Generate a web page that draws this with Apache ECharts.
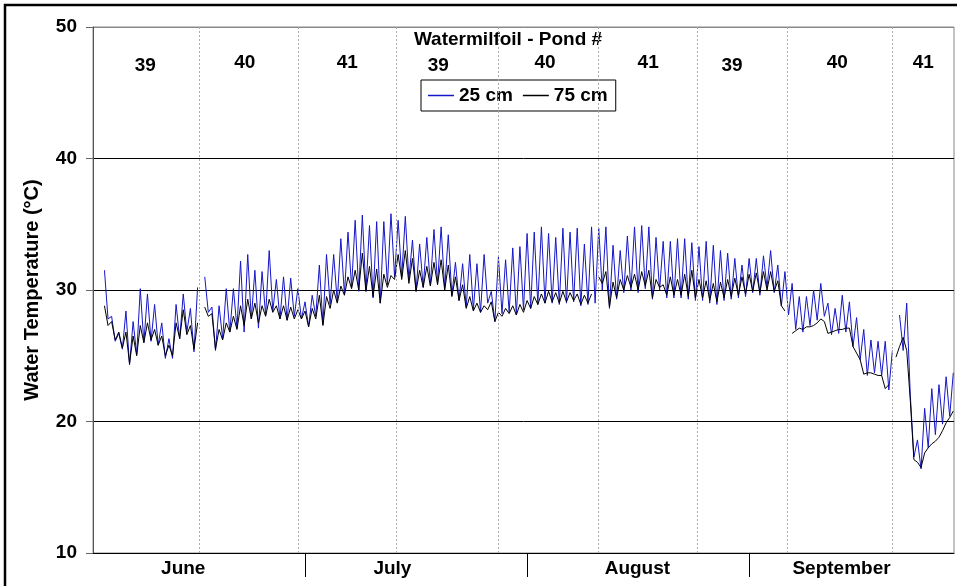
<!DOCTYPE html>
<html><head><meta charset="utf-8">
<script src="https://cdn.jsdelivr.net/npm/echarts@6/dist/echarts.min.js"></script>
<style>html,body{margin:0;padding:0;background:#fff}#c{width:957px;height:586px}</style>
</head><body><div id="c"></div>
<script>
// x axis: days since June 1 (0 = June 1). Series sampled every half day from firstDay.
const seriesNames = ['25 cm', '75 cm'];
const firstDay = 2;
const stepDays = 0.5;
const temp25 = [
  31.5,27.8, 28.0,26.1, 26.7,25.5, 28.4,24.3, 27.6,25.1,
  30.1,26.0, 29.7,26.1, 28.9,25.8, 27.5,24.8, 26.3,24.8,
  28.9,26.3, 29.7,26.8, 28.6,25.3, 30.2,null, 31.0,28.3,
  28.7,25.4, 28.8,26.3, 30.1,26.8, 30.1,27.1, 32.2,26.8,
  32.7,27.8, 31.5,27.1, 31.4,28.1, 33.0,28.4, 30.8,27.8,
  31.0,27.7, 30.9,28.0, 30.1,27.8, 29.1,27.2, 29.6,28.0,
  31.9,27.4, 32.7,28.9, 32.7,29.1, 33.9,29.7, 34.4,30.2,
  35.3,29.9, 35.7,29.9, 34.9,29.4, 35.2,29.0, 35.2,30.4,
  35.8,31.0, 35.3,31.0, 35.6,30.8, 33.8,29.9, 33.5,30.2,
  34.0,30.4, 34.6,30.5, 34.8,30.1, 34.2,29.6, 32.1,29.2,
  32.0,28.7, 32.7,28.5, 32.0,28.3, 32.7,29.0, 29.9,27.6,
  32.5,28.2, 32.3,28.3, 33.2,28.1, 33.3,28.5, 34.3,28.6,
  34.4,28.9, 34.8,29.0, 34.3,29.0, 34.0,28.9, 34.7,29.0,
  34.4,29.1, 34.7,28.8, 33.5,28.9, 34.8,29.0, 34.7,30.0,
  34.8,28.6, 33.4,29.3, 33.0,29.8, 34.1,30.0, 34.8,29.8,
  34.9,30.1, 34.8,29.3, 34.0,30.0, 33.7,29.4, 33.7,29.4,
  33.9,29.4, 33.9,29.3, 33.6,29.2, 33.3,29.2, 33.7,29.0,
  33.4,28.9, 33.0,29.2, 32.8,29.3, 32.4,29.4, 31.9,29.5,
  32.4,29.8, 32.4,29.6, 32.6,30.2, 33.0,29.8, 31.9,28.8,
  31.4,28.1, 30.5,27.0, 29.5,26.8, 29.5,27.3, 30.0,27.7,
  30.5,28.0, 29.0,26.6, 28.6,26.7, 29.6,26.8, 29.1,25.7,
  27.9,24.7, 27.0,23.5, 26.2,23.7, 26.1,23.5, 26.1,22.4,
  25.4,null, 28.1,25.4, 29.0,22.0, 17.3,18.6, 16.4,21.0,
  18.0,22.5, 19.0,22.8, 19.8,23.4, 20.4,23.7
];
const temp75 = [
  28.8,27.3, 27.6,26.2, 26.8,25.6, 26.8,24.4, 26.5,25.0,
  27.3,26.0, 27.5,26.2, 27.0,25.8, 26.5,25.0, 25.8,25.0,
  27.5,26.3, 28.5,26.6, 27.3,25.5, 27.5,null, 28.7,28.0,
  28.2,25.5, 27.0,26.2, 27.5,26.8, 28.0,27.0, 28.8,27.3,
  29.3,27.8, 29.0,27.5, 28.8,28.0, 29.3,28.3, 28.8,27.8,
  28.8,27.7, 28.7,27.8, 28.5,27.8, 28.4,27.2, 28.6,27.8,
  29.6,27.3, 29.5,28.6, 30.0,29.0, 30.3,29.6, 31.0,30.1,
  31.5,30.0, 32.8,29.9, 31.8,29.5, 31.6,29.0, 31.2,30.2,
  31.1,30.8, 32.7,30.8, 33.0,30.5, 32.4,29.9, 31.5,30.2,
  31.8,30.3, 32.1,30.4, 32.3,30.0, 31.9,29.5, 31.0,29.2,
  30.4,28.6, 29.5,28.4, 29.0,28.3, 28.8,28.5, 29.1,27.6,
  28.3,28.0, 28.6,28.2, 28.8,28.1, 28.9,28.3, 29.2,28.6,
  29.5,28.9, 29.7,29.0, 29.9,29.1, 29.8,29.0, 29.9,29.1,
  29.8,29.2, 29.7,28.9, 29.6,29.0, 29.7,null, 31.0,30.5,
  31.4,28.7, 30.6,29.4, 30.8,30.0, 31.1,30.2, 31.2,30.0,
  31.4,30.3, 31.5,29.4, 30.8,30.2, 30.4,29.6, 31.0,29.6,
  30.8,29.6, 31.2,29.5, 31.5,29.4, 30.8,29.4, 30.7,29.2,
  30.5,29.1, 30.6,29.4, 30.8,29.5, 30.9,29.6, 31.0,29.7,
  31.2,29.9, 31.3,29.8, 31.4,30.0, 31.4,29.9, 30.7,28.8,
  28.4,null, 26.7,26.9, 27.1,27.0, 27.2,27.2, 27.3,27.5,
  27.8,27.6, 26.7,26.8, 26.9,27.0, 27.0,27.1, 27.1,25.7,
  25.2,24.7, 23.6,23.7, 23.7,23.6, 23.5,23.5, 22.5,22.8,
  null,24.9, 25.7,26.4, 25.4,21.6, 17.1,16.9, 16.5,17.6,
  18.0,18.3, 18.5,18.8, 19.3,19.9, 20.3,20.8
];
const monthNames = ['June', 'July', 'August', 'September'];
const monthBoundaryDays = [30, 61, 92];
const monthLabelDays = [13.0, 42.2, 76.4, 104.9];
const pondChangeDays = [15.3, 29.0, 42.7, 57.0, 70.9, 84.8, 97.3, 112.0];
const pondLabels = ['39', '40', '41', '39', '40', '41', '39', '40', '41'];
const pondLabelDays = [7.7, 21.6, 35.9, 48.6, 63.5, 77.9, 89.6, 104.3, 116.3];
const pondLabelLevels = [47.05, 47.25, 47.3, 47.05, 47.3, 47.3, 47.05, 47.3, 47.3];
const panelTitle = 'Watermilfoil - Pond #';
const yAxisTitle = 'Water Temperature (°C)';
const xRange = [0.4, 120.6];
const yRange = [10, 50, 10];

const FONT = '"Liberation Sans", Arial, sans-serif';
const toPairs = arr => arr.map((v, k) => [firstDay + k * stepDays, v]);

const chart = echarts.init(document.getElementById('c'), null, {renderer: 'canvas'});
chart.setOption({
  animation: false,
  backgroundColor: '#fff',
  grid: {left: 93, right: 3, top: 27, bottom: 33, show: true, borderColor: '#888', borderWidth: 1},
  legend: {
    data: seriesNames, left: 421, top: 80, icon: 'rect', itemWidth: 26, itemHeight: 1.5, itemGap: 10,
    padding: [5, 8, 5, 7], borderColor: '#000', borderWidth: 1, backgroundColor: '#fff',
    textStyle: {fontFamily: FONT, fontSize: 19, fontWeight: 'bold', color: '#000', lineHeight: 21}
  },
  xAxis: {
    type: 'value', min: xRange[0], max: xRange[1],
    axisLine: {show: true, lineStyle: {color: '#000', width: 1}},
    axisTick: {show: true, customValues: monthBoundaryDays, length: 24, lineStyle: {color: '#000'}},
    axisLabel: {
      customValues: monthLabelDays, margin: 6,
      formatter: v => {
        let best = 0;
        monthLabelDays.forEach((d, i) => { if (Math.abs(d - v) < Math.abs(monthLabelDays[best] - v)) best = i; });
        return monthNames[best];
      },
      fontFamily: FONT, fontSize: 19, fontWeight: 'bold', color: '#000'
    },
    splitLine: {show: false}
  },
  yAxis: {
    type: 'value', min: yRange[0], max: yRange[1], interval: yRange[2],
    name: yAxisTitle, nameLocation: 'middle', nameRotate: 90, nameGap: 51,
    nameTextStyle: {fontFamily: FONT, fontSize: 20, fontWeight: 'bold', color: '#000'},
    axisLine: {show: true, lineStyle: {color: '#555'}},
    axisTick: {show: true, length: 7, lineStyle: {color: '#666'}},
    axisLabel: {fontFamily: FONT, fontSize: 19, fontWeight: 'bold', color: '#000', margin: 16},
    splitLine: {show: true, lineStyle: {color: ['#000', '#000', '#000', '#000', '#888'], width: 1}}
  },
  graphic: [
    {type: 'rect', shape: {x: 5, y: 5, width: 960, height: 600},
     style: {fill: 'none', stroke: '#000', lineWidth: 2.5}, silent: true},
    {type: 'text', x: 508, y: 40, silent: true,
     style: {text: panelTitle, font: 'bold 19px ' + FONT, fill: '#000',
             align: 'center', verticalAlign: 'middle', textAlign: 'center', textVerticalAlign: 'middle'}}
  ],
  series: [
    {
      name: seriesNames[0], type: 'line', data: toPairs(temp25), showSymbol: false, symbol: 'none',
      connectNulls: false, color: '#1616c8', lineStyle: {width: 1, color: '#1616c8'}, silent: true, z: 3,
      markLine: {
        silent: true, symbol: ['none', 'none'], label: {show: false},
        lineStyle: {type: [2, 2], color: '#aaa', width: 1},
        data: pondChangeDays.map(d => ({xAxis: d}))
      }
    },
    {
      name: seriesNames[1], type: 'line', data: toPairs(temp75), showSymbol: false, symbol: 'none',
      connectNulls: false, color: '#000', lineStyle: {width: 1, color: '#000'}, silent: true, z: 4
    },
    {
      type: 'custom', silent: true, z: 5,
      data: pondLabels.map((t, i) => [pondLabelDays[i], pondLabelLevels[i], i]),
      renderItem: (params, api) => {
        const pt = api.coord([api.value(0), api.value(1)]);
        return {
          type: 'text', x: pt[0], y: pt[1],
          style: {text: pondLabels[api.value(2)], font: 'bold 19px ' + FONT, fill: '#000',
                  align: 'center', verticalAlign: 'middle'}
        };
      }
    }
  ]
});
</script>
</body></html>
